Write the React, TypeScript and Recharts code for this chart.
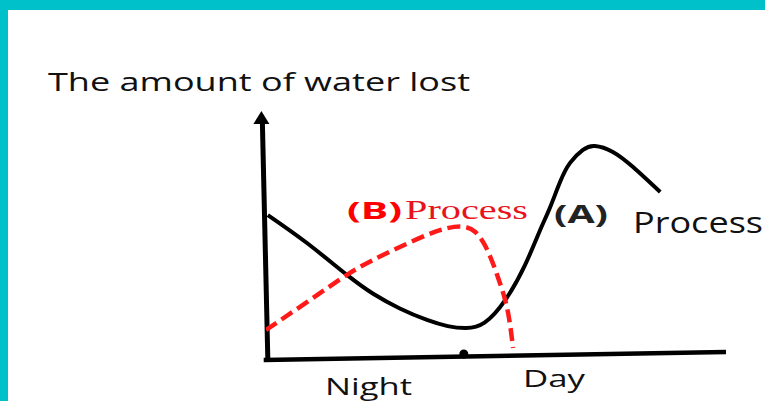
import React from "react";
import { LineChart, Line, XAxis, YAxis, ReferenceLine, ReferenceDot, Customized } from "recharts";

// Process (A): black solid curve  [time, amount]
const processAX = [0.4, 8.9, 17.6, 23.3, 29.1, 35.0, 39.5, 43.5, 47.5, 52.0, 56.3, 59.6, 61.7, 63.9, 66.1, 68.9, 71.5, 75.4, 79.8, 85.7];
const processAY = [57.1, 45.7, 32.7, 25.0, 19.0, 14.3, 11.8, 11.0, 13.2, 22.4, 36.7, 51.0, 60.0, 70.5, 78.4, 83.7, 85.3, 82.9, 76.7, 66.5];

// Process (B): red dashed curve
const processBX = [0, 8.9, 17.6, 23.3, 29.1, 35.0, 39.0, 42.5, 45.5, 48.2, 50.4, 52.0, 53.0, 53.7];
const processBY = [10.2, 21.6, 32.7, 38.8, 44.1, 49.0, 51.6, 52.4, 50.2, 42.5, 31.8, 22.4, 13.1, 2.9];

const yAxisTitle = "The amount of water lost";
const xLabels = ["Night", "Day"];

const dataA = processAX.map((x, i) => ({ t: x, v: processAY[i] }));
const dataB = processBX.map((x, i) => ({ t: x, v: processBY[i] }));

const W = 765;
const H = 401;
const CYAN = "#00c0ca";

const Arrow = (props: any) => {
  const { cx, cy } = props;
  return <polygon points={`${cx},${cy} ${cx - 8},${cy + 13} ${cx + 8},${cy + 13}`} fill="#000" />;
};

const Labels = () => (
  <g>
    <text x={48} y={91} fontFamily="Open Sans" fontSize={25} fill="#111" textLength={422} lengthAdjust="spacingAndGlyphs">
      {yAxisTitle}
    </text>
    <text x={347} y={219} fontFamily="Open Sans" fontWeight="bold" fontSize={23} fill="#ff0000" textLength={55} lengthAdjust="spacingAndGlyphs">
      (B)
    </text>
    <text x={405} y={219} fontFamily="Liberation Serif" fontSize={28} fill="#e8131b" textLength={123} lengthAdjust="spacingAndGlyphs">
      Process
    </text>
    <text x={554} y={223} fontFamily="Open Sans" fontWeight="bold" fontSize={25} fill="#222" textLength={54} lengthAdjust="spacingAndGlyphs">
      (A)
    </text>
    <text x={633} y={233} fontFamily="Open Sans" fontSize={29} fill="#111" textLength={130} lengthAdjust="spacingAndGlyphs">
      Process
    </text>
    <text x={325} y={395} fontFamily="Open Sans" fontSize={24} fill="#111" textLength={87} lengthAdjust="spacingAndGlyphs">
      {xLabels[0]}
    </text>
    <text x={523} y={387} fontFamily="Open Sans" fontSize={24} fill="#111" textLength={62} lengthAdjust="spacingAndGlyphs">
      {xLabels[1]}
    </text>
  </g>
);

export default function App() {
  return (
    <div style={{ position: "absolute", left: 0, top: 0, width: W, height: H, background: "#fff", overflow: "hidden" }}>
      <LineChart width={W} height={H} margin={{ top: 110, right: 39, bottom: 46, left: 266 }}>
        <XAxis type="number" dataKey="t" domain={[0, 100]} hide allowDataOverflow />
        <YAxis type="number" dataKey="v" domain={[0, 100]} hide allowDataOverflow />
        <ReferenceLine
          segment={[{ x: -0.8, y: 96 }, { x: 0.4, y: -2 }]}
          stroke="#000"
          strokeWidth={5}
          ifOverflow="visible"
        />
        <ReferenceLine
          segment={[{ x: -0.5, y: -2 }, { x: 100, y: 1.2 }]}
          stroke="#000"
          strokeWidth={4.5}
          ifOverflow="visible"
        />
        <ReferenceDot x={-1.0} y={99.6} r={1} ifOverflow="visible" shape={Arrow} />
        <ReferenceDot x={43} y={0.4} r={4.5} fill="#000" stroke="none" ifOverflow="visible" />
        <Line
          data={dataA}
          dataKey="v"
          type="natural"
          stroke="#000"
          strokeWidth={4}
          dot={false}
          activeDot={false}
          isAnimationActive={false}
        />
        <Line
          data={dataB}
          dataKey="v"
          type="natural"
          stroke="#ff1a1a"
          strokeWidth={4.5}
          strokeDasharray="13 6"
          dot={false}
          activeDot={false}
          isAnimationActive={false}
        />
        <Customized component={Labels} />
      </LineChart>
      <div style={{ position: "absolute", left: 0, top: 0, width: W, height: 10, background: CYAN }} />
      <div style={{ position: "absolute", left: 0, top: 0, width: 8, height: H, background: CYAN }} />
    </div>
  );
}
